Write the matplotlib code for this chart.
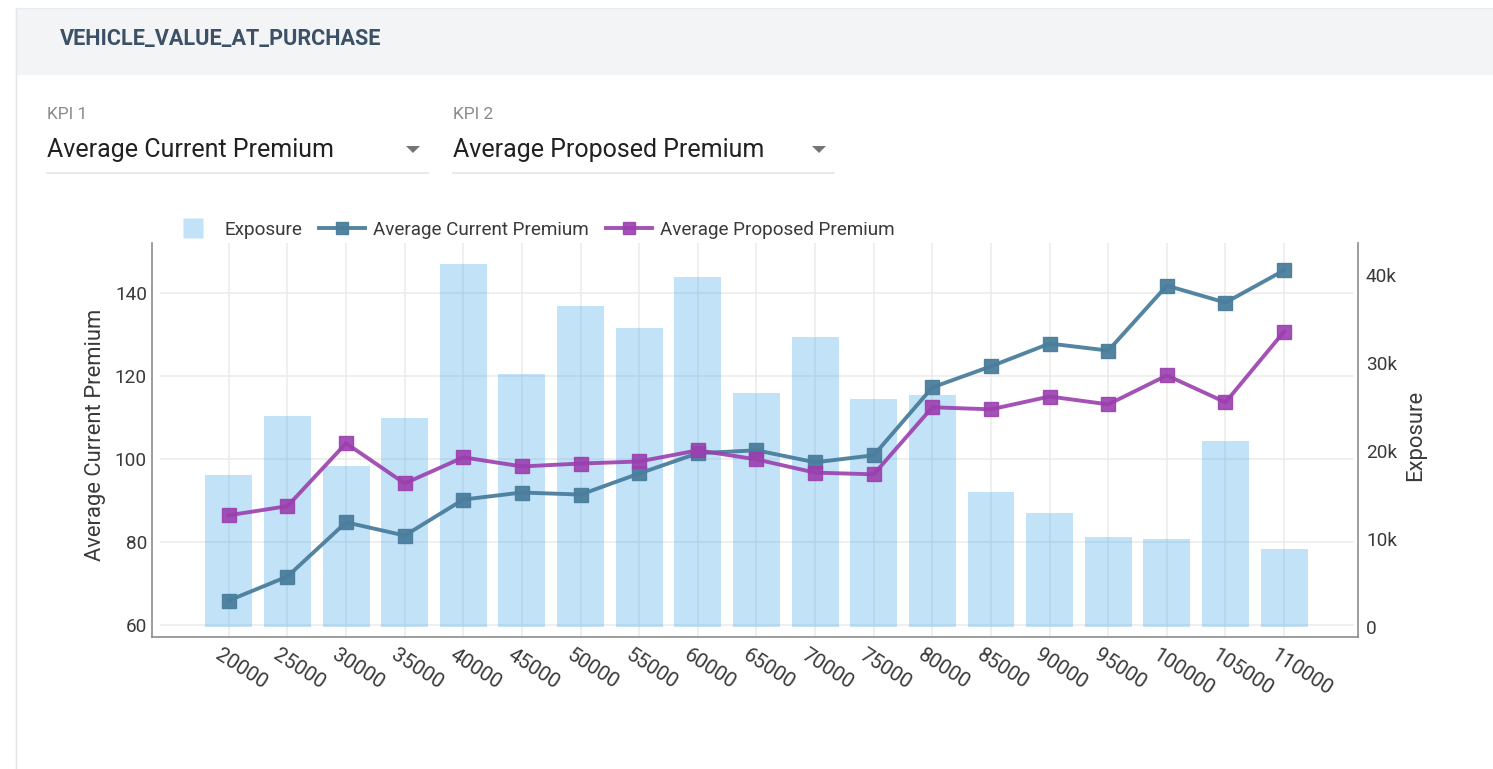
"""Exposure bars with current / proposed average premium lines by vehicle value."""
import matplotlib.pyplot as plt
import matplotlib.transforms as mtransforms
from matplotlib.lines import Line2D
from matplotlib.patches import Polygon, Rectangle
import numpy as np

plt.rcParams["font.family"] = ["Roboto", "DejaVu Sans"]

VEHICLE_VALUE = [20000, 25000, 30000, 35000, 40000, 45000, 50000, 55000, 60000, 65000,
                 70000, 75000, 80000, 85000, 90000, 95000, 100000, 105000, 110000]
EXPOSURE = [17300, 24000, 18300, 23700, 41300, 28700, 36500, 34000, 39800, 26600,
            33000, 25900, 26400, 15300, 13000, 10200, 10000, 21100, 8900]
CURRENT = [65.8, 71.6, 84.7, 81.5, 90.2, 91.9, 91.4, 96.5, 101.4, 102.1,
           99.2, 100.9, 117.3, 122.4, 127.9, 126.2, 141.9, 137.8, 145.6]
PROPOSED = [86.4, 88.6, 103.8, 94.1, 100.4, 98.2, 98.9, 99.4, 102.1, 99.9,
            96.7, 96.3, 112.5, 112.0, 115.1, 113.2, 120.2, 113.7, 130.8]
LEFT_TICKS = [60, 80, 100, 120, 140]
RIGHT_TICKS = [0, 10000, 20000, 30000, 40000]
RIGHT_LABELS = ["0", "10k", "20k", "30k", "40k"]

BAR = (54 / 255, 162 / 255, 235 / 255, 0.3)
CUR = "#4a7e9c"
PROP = "#9b3fae"
GRID = "#ebebeb"
SPINE = "#8c8c8c"
TXT = "#3a3a3a"

W, H = 1493, 769


def fx(x):
    return x / W


def fy(y):
    return 1 - y / H


def main():
    fig = plt.figure(figsize=(W / 100, H / 100), dpi=100)

    # panel chrome: header strip, borders, KPI selectors
    fig.add_artist(Rectangle((fx(16), fy(75)), fx(W) - fx(16), fy(8) - fy(75),
                             transform=fig.transFigure, facecolor="#f3f4f6", edgecolor="none"))
    fig.add_artist(Line2D([fx(16), fx(16)], [fy(8), 0], transform=fig.transFigure,
                          color="#e3e5e8", lw=1.0))
    fig.add_artist(Line2D([fx(16), 1], [fy(8), fy(8)], transform=fig.transFigure,
                          color="#e8eaed", lw=0.8))
    fig.text(fx(60), fy(45), "VEHICLE_VALUE_AT_PURCHASE", fontsize=15.6, fontweight="bold",
             color="#3c5166", va="baseline")
    for x0, x1, kpi, value in [(47, 428, "KPI 1", "Average Current Premium"),
                               (453, 834, "KPI 2", "Average Proposed Premium")]:
        fig.text(fx(x0), fy(119), kpi, fontsize=12.5, color="#8a8a8a", va="baseline")
        fig.text(fx(x0), fy(157), value, fontsize=18, color="#212121", va="baseline")
        ax_ = x1 - 15
        fig.add_artist(Polygon([(fx(ax_ - 7), fy(146)), (fx(ax_ + 7), fy(146)),
                                (fx(ax_), fy(153))], closed=True, transform=fig.transFigure,
                               facecolor="#757575", edgecolor="none"))
        fig.add_artist(Line2D([fx(x0), fx(x1)], [fy(173), fy(173)], transform=fig.transFigure,
                              color="#e2e5ea", lw=1.2))

    ax = fig.add_axes([fx(152), fy(637), fx(1358) - fx(152), fy(243) - fy(637)])
    ax2 = ax.twinx()
    ax.set_zorder(ax2.get_zorder() + 1)
    ax.patch.set_visible(False)

    x = np.arange(len(VEHICLE_VALUE))
    for xi in x:
        ax2.axvline(xi, color=GRID, lw=1.1, zorder=0)
    hgrid = mtransforms.blended_transform_factory(ax2.transAxes, ax.transData)
    for v in LEFT_TICKS:
        ax2.add_line(Line2D([9 / 1206, 1 - 5 / 1206], [v, v], transform=hgrid,
                            color=GRID, lw=1.1, zorder=0))
    ax2.bar(x, EXPOSURE, width=0.8, color=BAR, zorder=2)

    ax.plot(x, CURRENT, color=CUR, lw=2.8, marker="s", ms=9.5, alpha=0.95,
            label="Average Current Premium")
    ax.plot(x, PROPOSED, color=PROP, lw=2.8, marker="s", ms=9.5, alpha=0.9,
            label="Average Proposed Premium")

    ax.set_xlim(-1.31, 19.26)
    ax.set_ylim(56.98, 152.2)
    ax2.set_ylim(-1136, 43636)

    ax.set_yticks(LEFT_TICKS)
    ax2.set_yticks(RIGHT_TICKS, RIGHT_LABELS)
    ax.set_xticks(x, [str(v) for v in VEHICLE_VALUE])
    ax.tick_params(axis="y", length=0, pad=3.6, labelsize=13.7, labelcolor=TXT)
    ax2.tick_params(axis="y", length=0, pad=5.8, labelsize=13.7, labelcolor=TXT)
    ax.tick_params(axis="x", length=0, pad=6.0, labelsize=14.8, labelcolor=TXT)
    offset = mtransforms.ScaledTranslation(-7 / 100, 0, fig.dpi_scale_trans)
    for lab in ax.get_xticklabels():
        lab.set_rotation(-33)
        lab.set_ha("left")
        lab.set_va("top")
        lab.set_rotation_mode("anchor")
        lab.set_transform(lab.get_transform() + offset)

    for a in (ax, ax2):
        for side in ("top", "left", "right", "bottom"):
            a.spines[side].set_visible(False)
    for side in ("left", "bottom"):
        ax.spines[side].set_visible(True)
        ax.spines[side].set_color(SPINE)
        ax.spines[side].set_linewidth(1.2)
    ax2.spines["right"].set_visible(True)
    ax2.spines["right"].set_color(SPINE)
    ax2.spines["right"].set_linewidth(1.2)

    fig.text(fx(95), fy(435), "Average Current Premium", rotation=90, fontsize=15.8,
             color=TXT, ha="center", va="center")
    fig.text(fx(1416), fy(435), "Exposure", rotation=90, fontsize=15.8,
             color=TXT, ha="center", va="center")

    handles = [
        Line2D([], [], ls="none", marker="s", ms=14.4, mfc=BAR, mec="none"),
        Line2D([], [], color=CUR, lw=2.8, marker="s", ms=9, alpha=0.95),
        Line2D([], [], color=PROP, lw=2.8, marker="s", ms=9, alpha=0.9),
    ]
    labels = ["Exposure", "Average Current Premium", "Average Proposed Premium"]
    fig.legend(handles, labels, loc="center left", bbox_to_anchor=(fx(170), fy(230)),
               ncol=3, frameon=False, fontsize=13.6, handlelength=2.45, handletextpad=0.42,
               columnspacing=0.9, borderaxespad=0, borderpad=0, labelcolor=TXT)

    fig.savefig("out.png", dpi=100)
    plt.close(fig)


if __name__ == "__main__":
    main()
